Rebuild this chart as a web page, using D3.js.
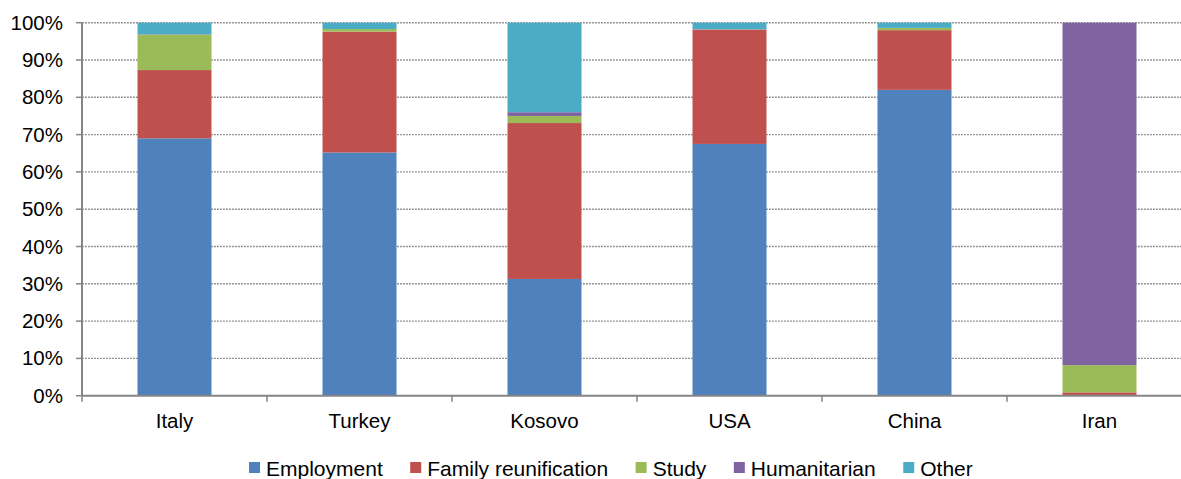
<!DOCTYPE html>
<html><head><meta charset="utf-8">
<script src="https://cdn.jsdelivr.net/npm/d3@7"></script>
<style>body{margin:0;background:#fff}svg{display:block}text{font-family:"Liberation Sans",Arial,sans-serif;fill:#000}</style>
</head><body><svg id="c" width="1181" height="479"></svg>
<script>
const categories = ["Italy","Turkey","Kosovo","USA","China","Iran"];
const seriesNames = ["Employment","Family reunification","Study","Humanitarian","Other"];
const employment   = [69.0, 65.2, 31.3, 67.5, 82.0, 0.2];
const family       = [18.3, 32.4, 41.8, 30.6, 16.0, 0.7];
const study        = [9.5, 0.7, 1.9, 0.1, 0.6, 7.3];
const humanitarian = [0.1, 0.0, 1.0, 0.1, 0.0, 91.8];
const other        = [3.1, 1.7, 24.0, 1.7, 1.4, 0.0];
const yTicks = [0,10,20,30,40,50,60,70,80,90,100];
const colors = ["#4F81BD","#C0504D","#9BBB59","#8064A2","#4BACC6"];

const svg = d3.select("#c");
function stext(g, x, y, str, anchor, fs){
  return g.append("text").attr("x",x).attr("y",y).attr("font-size",fs).attr("text-anchor",anchor||"start").text(str);
}
const x = d3.scaleBand().domain(categories).range([82,1192]).paddingInner(0.6).paddingOuter(0.3);
const y = d3.scaleLinear().domain([0,100]).range([395.7,22.7]);

const rows = categories.map((c,i)=>({cat:c, Employment:employment[i], "Family reunification":family[i], Study:study[i], Humanitarian:humanitarian[i], Other:other[i]}));
const stack = d3.stack().keys(seriesNames)(rows);

// grid
svg.append("g").selectAll("line").data(yTicks.filter(d=>d>0)).join("line")
  .attr("x1",82).attr("x2",1181).attr("y1",d=>y(d)).attr("y2",d=>y(d))
  .attr("stroke","#8a8a8a").attr("stroke-width",1.4).attr("stroke-dasharray","1.8,1.2");

// bars
svg.append("g").selectAll("g").data(stack).join("g").attr("fill",(d,i)=>colors[i])
  .selectAll("rect").data(d=>d).join("rect")
  .attr("x",d=>x(d.data.cat)).attr("width",x.bandwidth())
  .attr("y",d=>y(d[1])).attr("height",d=>Math.max(0,y(d[0])-y(d[1])));

// y axis
const ya = svg.append("g");
ya.append("line").attr("x1",82).attr("x2",82).attr("y1",y(100)).attr("y2",y(0)).attr("stroke","#868686").attr("stroke-width",2);
yTicks.forEach(t=>{
  ya.append("line").attr("x1",76).attr("x2",82).attr("y1",y(t)).attr("y2",y(t)).attr("stroke","#868686").attr("stroke-width",1.5);
  stext(ya, 63, y(t)+7, t+"%", "end", 20.5);
});
// x axis
const xa = svg.append("g");
xa.append("line").attr("x1",82).attr("x2",1181).attr("y1",y(0)).attr("y2",y(0)).attr("stroke","#868686").attr("stroke-width",2);
const step = x.step();
categories.forEach((c,i)=>{
  const b = x(c) - (step - x.bandwidth())/2;
  xa.append("line").attr("x1",b).attr("x2",b).attr("y1",y(0)).attr("y2",y(0)+6).attr("stroke","#868686").attr("stroke-width",1.5);
  stext(xa, x(c)+x.bandwidth()/2, 428, c, "middle", 20.5);
});

// legend
const lg = svg.append("g");
let lx = 249;
seriesNames.forEach((s,i)=>{
  lg.append("rect").attr("x",lx).attr("y",462).attr("width",11).attr("height",11).attr("fill",colors[i]);
  const t = stext(lg, lx+17, 476, s, "start", 21);
  const w = t.node().getComputedTextLength();
  lx += 17 + w + 27.5;
});
</script></body></html>
